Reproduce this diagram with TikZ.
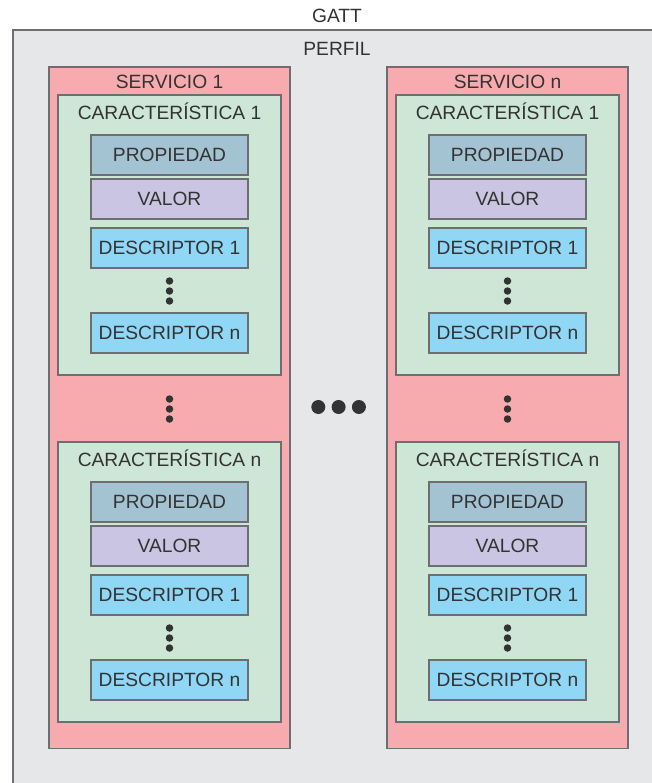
\documentclass[tikz,border=0pt]{standalone}
\usepackage{fontspec}
\setmainfont{Liberation Sans}
\definecolor{bggray}{HTML}{E6E7E9}
\definecolor{edge}{HTML}{6D6E71}
\definecolor{srvpink}{HTML}{F7ABAF}
\definecolor{chargreen}{HTML}{CDE6D5}
\definecolor{propblue}{HTML}{A4C3D2}
\definecolor{valpurple}{HTML}{C9C5E2}
\definecolor{descblue}{HTML}{90D7F5}
\definecolor{txt}{HTML}{333333}
\begin{document}
\begin{tikzpicture}[x=1pt,y=-1pt,
  box/.style={draw=edge,line width=1.1pt,rectangle,inner sep=0pt,text=txt,
    font=\fontsize{19.2}{23}\selectfont},
  srv/.style={box,fill=srvpink,minimum width=241pt,minimum height=681.5pt},
  chr/.style={box,fill=chargreen,minimum width=223pt,minimum height=280pt},
  prop/.style={box,fill=propblue,minimum width=157pt,minimum height=40pt},
  val/.style={box,fill=valpurple,minimum width=157pt,minimum height=40pt},
  desc/.style={box,fill=descblue,minimum width=157pt,minimum height=40pt},
  lbl/.style={text=txt,inner sep=0pt,font=\fontsize{19.2}{23}\selectfont},
  dot/.style={circle,fill=txt,inner sep=0pt,minimum size=7.5pt},
  bigdot/.style={circle,fill=txt,inner sep=0pt,minimum size=14pt}]
\useasboundingbox (0,0) rectangle (652,783);
\fill[white] (0,0) rectangle (652,783);
% GATT / PERFIL container
\fill[bggray] (13,30) rectangle (652,783);
\draw[edge,line width=1.1pt] (13,783) -- (13,30) -- (652,30);
\node[lbl] (gatt) at (337,16) {GATT};
\node[lbl] (perfil) at (337,49) {PERFIL};
\foreach \sx/\sn/\stitle in {0/a/SERVICIO 1, 338/b/SERVICIO n} {
  \begin{scope}[xshift=\sx pt]
  \node[srv] (srv\sn) at (169.5,407.75) {};
  \node[lbl] (srvlbl\sn) at (169.5,82) {\stitle};
  \foreach \cy/\cn/\ctitle in {0/1/CARACTERÍSTICA 1, 347/2/CARACTERÍSTICA n} {
    \begin{scope}[yshift=-\cy pt]
    \node[chr] (chr\sn\cn) at (169.5,235) {};
    \node[lbl] (chrlbl\sn\cn) at (169.5,111) {\ctitle};
    \node[prop] (prop\sn\cn) at (169.5,155) {PROPIEDAD};
    \node[val] (val\sn\cn) at (169.5,199) {VALOR};
    \node[desc] (descA\sn\cn) at (169.5,248) {DESCRIPTOR 1};
    \node[dot] (da\sn\cn) at (169.5,281) {};
    \node[dot] (db\sn\cn) at (169.5,291) {};
    \node[dot] (dc\sn\cn) at (169.5,301) {};
    \node[desc] (descN\sn\cn) at (169.5,333) {DESCRIPTOR n};
    \end{scope}
  }
  \node[dot] (ma\sn) at (169.5,399) {};
  \node[dot] (mb\sn) at (169.5,409) {};
  \node[dot] (mc\sn) at (169.5,419) {};
  \end{scope}
}
\node[bigdot] (h1) at (318.3,407) {};
\node[bigdot] (h2) at (338.6,407) {};
\node[bigdot] (h3) at (358.9,407) {};
\end{tikzpicture}
\end{document}
